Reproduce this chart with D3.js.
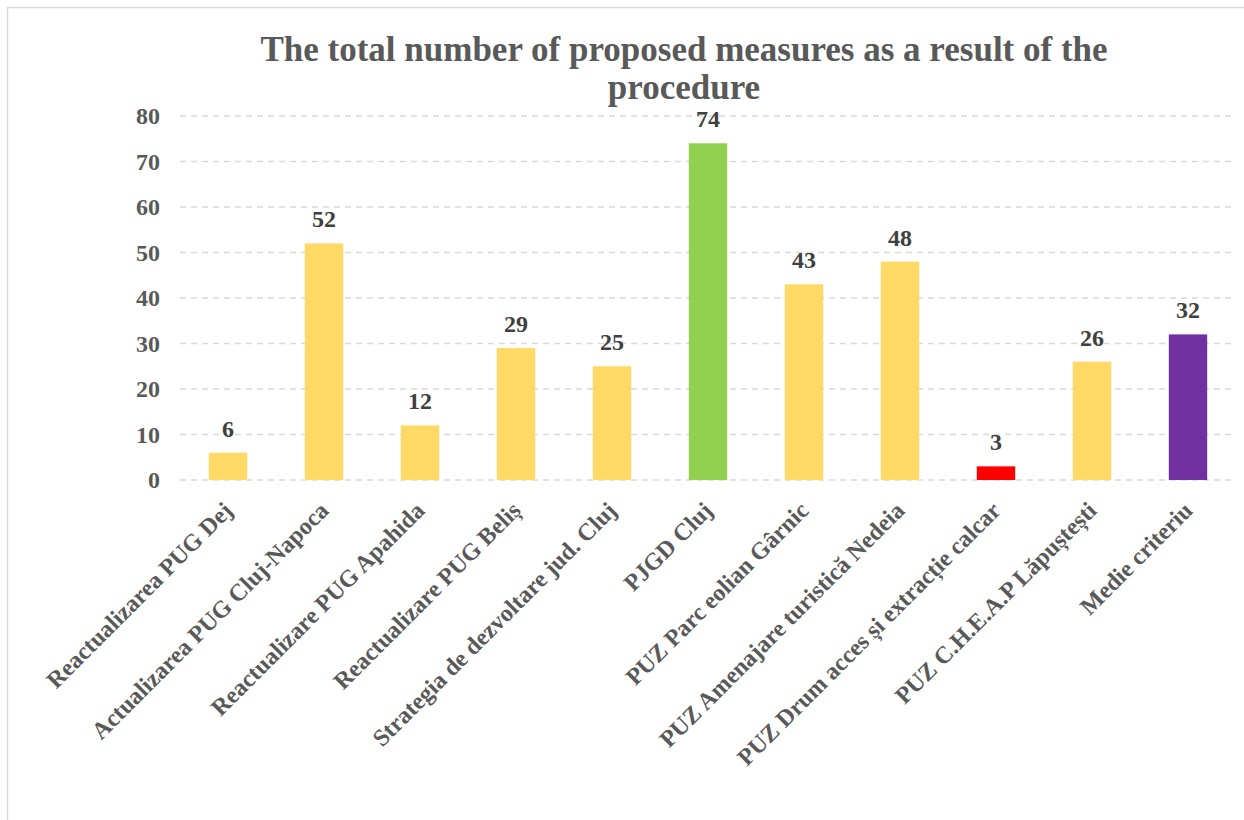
<!DOCTYPE html>
<html>
<head>
<meta charset="utf-8">
<script src="https://cdn.jsdelivr.net/npm/d3@7"></script>
<style>
  html, body { margin: 0; padding: 0; background: #fff; }
  svg { display: block; }
  text { font-family: "Liberation Serif", "Times New Roman", serif; font-weight: bold; }
</style>
</head>
<body>
<svg id="chart" width="1244" height="820"></svg>
<script>
// Proposed measures per planning procedure
const categories = [
  "Reactualizarea PUG Dej",
  "Actualizarea PUG Cluj-Napoca",
  "Reactualizare PUG Apahida",
  "Reactualizare PUG Beliș",
  "Strategia de dezvoltare jud. Cluj",
  "PJGD Cluj",
  "PUZ Parc eolian Gârnic",
  "PUZ Amenajare turistică Nedeia",
  "PUZ Drum acces și extracție calcar",
  "PUZ C.H.E.A.P Lăpuștești",
  "Medie criteriu"
];
const values = [6, 52, 12, 29, 25, 74, 43, 48, 3, 26, 32];
const barColors = ["#FFD966", "#FFD966", "#FFD966", "#FFD966", "#FFD966", "#92D050",
                   "#FFD966", "#FFD966", "#FF0000", "#FFD966", "#7030A0"];
const yTicks = [0, 10, 20, 30, 40, 50, 60, 70, 80];
const titleLines = ["The total number of proposed measures as a result of the", "procedure"];

const svg = d3.select("#chart");

// outer chart frame
svg.append("rect")
  .attr("x", 7.5).attr("y", 7.5)
  .attr("width", 1260).attr("height", 830)
  .attr("fill", "none").attr("stroke", "#D9D9D9").attr("stroke-width", 1.5);

const plot = { left: 180, right: 1236, top: 116, bottom: 480 };

const x = d3.scaleBand()
  .domain(categories)
  .range([plot.left, plot.right])
  .paddingInner(0.6)
  .paddingOuter(0.3);

const y = d3.scaleLinear()
  .domain([0, 80])
  .range([plot.bottom, plot.top]);

// title
svg.append("g").selectAll("text")
  .data(titleLines)
  .join("text")
  .attr("x", 684)
  .attr("y", (d, i) => 61 + i * 38)
  .attr("text-anchor", "middle")
  .attr("font-size", 35)
  .attr("fill", "#595959")
  .text(d => d);

// gridlines
svg.append("g").selectAll("line")
  .data(yTicks)
  .join("line")
  .attr("x1", plot.left).attr("x2", plot.right)
  .attr("y1", d => y(d)).attr("y2", d => y(d))
  .attr("stroke", "#D9D9D9")
  .attr("stroke-width", 1.5)
  .attr("stroke-dasharray", "6,5");

// y axis labels
const yAxis = d3.axisLeft(y).tickValues(yTicks).tickSize(0).tickPadding(20);
const gy = svg.append("g").attr("transform", `translate(${plot.left},0)`).call(yAxis);
gy.select(".domain").remove();
gy.selectAll("text")
  .attr("font-family", "Liberation Serif, Times New Roman, serif")
  .attr("font-weight", "bold")
  .attr("font-size", 24)
  .attr("fill", "#595959");

// bars
svg.append("g").selectAll("rect")
  .data(values)
  .join("rect")
  .attr("x", (d, i) => x(categories[i]))
  .attr("y", d => y(d))
  .attr("width", x.bandwidth())
  .attr("height", d => y(0) - y(d))
  .attr("fill", (d, i) => barColors[i]);

// value labels
svg.append("g").selectAll("text")
  .data(values)
  .join("text")
  .attr("x", (d, i) => x(categories[i]) + x.bandwidth() / 2)
  .attr("y", d => y(d) - 16)
  .attr("text-anchor", "middle")
  .attr("font-size", 24)
  .attr("fill", "#404040")
  .text(d => d);

// category labels, rotated
svg.append("g").selectAll("text")
  .data(categories)
  .join("text")
  .attr("transform", d => `translate(${x(d) + x.bandwidth() / 2 + 6},${plot.bottom + 32}) rotate(-45)`)
  .attr("text-anchor", "end")
  .attr("font-size", 24)
  .attr("fill", "#595959")
  .text(d => d);
</script>
</body>
</html>
